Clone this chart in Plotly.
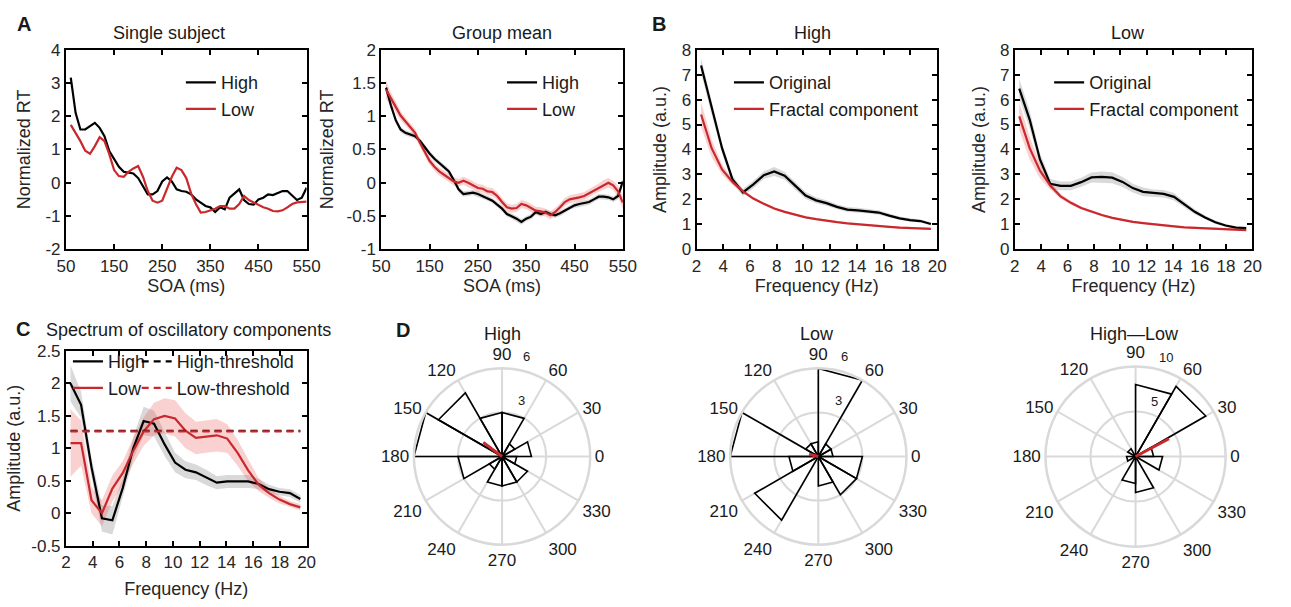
import plotly.graph_objects as go

# ---------------- DATA ----------------
soa = list(range(60, 560, 10))

a1_high = [3.16, 2.1, 1.6, 1.6, 1.7, 1.8, 1.65, 1.4, 0.95, 0.7, 0.48, 0.33, 0.3, 0.28, 0.14,
           -0.1, -0.35, -0.35, -0.25, 0.04, 0.16, 0.04, -0.2, -0.25, -0.27, -0.35, -0.5, -0.6,
           -0.7, -0.74, -0.88, -0.74, -0.8, -0.45, -0.32, -0.2, -0.52, -0.64, -0.66, -0.5, -0.45,
           -0.35, -0.37, -0.32, -0.25, -0.25, -0.4, -0.52, -0.45, -0.15]
a1_low = [1.74, 1.5, 1.25, 0.96, 0.87, 1.1, 1.37, 1.25, 0.86, 0.38, 0.2, 0.18, 0.33, 0.43, 0.5,
          0.18, -0.25, -0.54, -0.6, -0.54, -0.15, 0.18, 0.45, 0.38, 0.14, -0.32, -0.64, -0.9,
          -0.88, -0.83, -0.78, -0.7, -0.7, -0.78, -0.78, -0.64, -0.4, -0.52, -0.59, -0.66, -0.74,
          -0.78, -0.85, -0.86, -0.83, -0.74, -0.64, -0.59, -0.57, -0.57]

a2_high = [1.43, 1.16, 0.94, 0.8, 0.75, 0.73, 0.7, 0.63, 0.53, 0.44, 0.36, 0.3, 0.24, 0.17, 0.04,
           -0.1, -0.17, -0.16, -0.15, -0.17, -0.2, -0.23, -0.27, -0.33, -0.39, -0.47, -0.5, -0.54,
           -0.59, -0.54, -0.51, -0.44, -0.47, -0.44, -0.47, -0.49, -0.46, -0.42, -0.37, -0.34,
           -0.32, -0.31, -0.29, -0.25, -0.21, -0.21, -0.22, -0.25, -0.2, 0.02]
a2_high_err = [0.06, 0.05, 0.05, 0.04, 0.04, 0.04, 0.04, 0.04, 0.04, 0.04, 0.04, 0.04, 0.04, 0.04,
               0.04, 0.04, 0.04, 0.04, 0.04, 0.04, 0.04, 0.04, 0.04, 0.04, 0.04, 0.04, 0.04, 0.04,
               0.04, 0.04, 0.04, 0.04, 0.04, 0.04, 0.04, 0.04, 0.04, 0.04, 0.04, 0.04, 0.04, 0.04,
               0.04, 0.04, 0.04, 0.04, 0.04, 0.04, 0.05, 0.06]
a2_low = [1.4, 1.26, 1.14, 1.01, 0.92, 0.84, 0.75, 0.6, 0.46, 0.33, 0.24, 0.17, 0.12, 0.07, 0.02,
          0.0, 0.03, 0.0, -0.04, -0.08, -0.09, -0.13, -0.14, -0.2, -0.29, -0.37, -0.39, -0.38,
          -0.32, -0.34, -0.38, -0.42, -0.43, -0.45, -0.49, -0.44, -0.37, -0.29, -0.25, -0.24,
          -0.22, -0.2, -0.16, -0.11, -0.07, -0.03, 0.0, -0.04, -0.13, -0.3]
a2_low_err = [0.14, 0.1, 0.08, 0.07, 0.06, 0.06, 0.06, 0.06, 0.06, 0.06, 0.06, 0.06, 0.06, 0.06,
              0.06, 0.06, 0.06, 0.06, 0.06, 0.06, 0.06, 0.06, 0.06, 0.06, 0.06, 0.06, 0.06, 0.06,
              0.06, 0.06, 0.06, 0.06, 0.06, 0.06, 0.06, 0.06, 0.06, 0.06, 0.06, 0.06, 0.06, 0.06,
              0.06, 0.06, 0.06, 0.07, 0.07, 0.07, 0.08, 0.1]

freq = [2.34, 3.13, 3.91, 4.69, 5.47, 6.25, 7.03, 7.81, 8.59, 9.38, 10.16, 10.94, 11.72, 12.5,
        13.28, 14.06, 14.84, 15.63, 16.41, 17.19, 17.97, 18.75, 19.53]

b_high_orig = [7.37, 5.65, 4.05, 2.8, 2.28, 2.6, 2.97, 3.12, 2.95, 2.55, 2.15, 1.96, 1.85, 1.7,
               1.59, 1.56, 1.52, 1.47, 1.35, 1.24, 1.17, 1.13, 1.01]
b_high_orig_err = [0.3, 0.25, 0.2, 0.15, 0.15, 0.15, 0.15, 0.18, 0.16, 0.15, 0.14, 0.12, 0.11,
                   0.1, 0.1, 0.1, 0.09, 0.09, 0.08, 0.07, 0.07, 0.06, 0.06]
b_high_frac = [5.4, 4.05, 3.2, 2.7, 2.32, 2.03, 1.82, 1.63, 1.5, 1.38, 1.28, 1.21, 1.14, 1.09,
               1.04, 1.0, 0.96, 0.94, 0.9, 0.87, 0.85, 0.83, 0.82]
b_high_frac_err = [0.5, 0.35, 0.2, 0.12, 0.08, 0.06, 0.05, 0.05, 0.04, 0.04, 0.04, 0.04, 0.04,
                   0.04, 0.04, 0.04, 0.04, 0.04, 0.04, 0.04, 0.04, 0.04, 0.04]
b_low_orig = [6.44, 5.2, 3.6, 2.62, 2.54, 2.54, 2.69, 2.88, 2.9, 2.87, 2.7, 2.45, 2.3, 2.25,
              2.22, 2.1, 1.8, 1.5, 1.27, 1.08, 0.95, 0.87, 0.85]
b_low_orig_err = [0.4, 0.35, 0.25, 0.2, 0.18, 0.18, 0.18, 0.2, 0.22, 0.22, 0.2, 0.18, 0.18, 0.15,
                  0.15, 0.15, 0.12, 0.1, 0.08, 0.07, 0.06, 0.05, 0.05]
b_low_frac = [5.33, 4.05, 3.15, 2.55, 2.12, 1.86, 1.65, 1.5, 1.37, 1.26, 1.17, 1.1, 1.05, 1.0,
              0.96, 0.92, 0.88, 0.86, 0.83, 0.81, 0.79, 0.78, 0.77]
b_low_frac_err = [0.55, 0.45, 0.3, 0.15, 0.1, 0.08, 0.06, 0.05, 0.05, 0.04, 0.04, 0.04, 0.04,
                  0.04, 0.04, 0.04, 0.04, 0.04, 0.04, 0.04, 0.04, 0.04, 0.04]

c_high = [2.0, 1.67, 0.71, -0.08, -0.11, 0.39, 1.0, 1.42, 1.38, 1.06, 0.78, 0.67, 0.63, 0.55,
          0.47, 0.49, 0.49, 0.49, 0.45, 0.37, 0.33, 0.31, 0.22]
c_high_err = [0.28, 0.2, 0.15, 0.2, 0.22, 0.15, 0.17, 0.22, 0.2, 0.18, 0.15, 0.13, 0.12, 0.12,
              0.1, 0.1, 0.1, 0.1, 0.08, 0.07, 0.06, 0.06, 0.06]
c_low = [1.08, 1.08, 0.2, 0.0, 0.38, 0.62, 0.96, 1.26, 1.45, 1.5, 1.46, 1.27, 1.16, 1.18, 1.2,
         1.15, 0.93, 0.66, 0.44, 0.31, 0.21, 0.14, 0.09]
c_low_err = [0.52, 0.35, 0.2, 0.2, 0.2, 0.18, 0.2, 0.22, 0.25, 0.27, 0.28, 0.27, 0.25, 0.25,
             0.25, 0.22, 0.2, 0.17, 0.1, 0.07, 0.06, 0.05, 0.05]
c_high_thr = 1.27
c_low_thr = 1.26

rose_edges = [0, 30, 60, 90, 120, 150, 180, 210, 240, 270, 300, 330]
rose_high = [2, 1, 3, 3, 5, 6, 3, 1, 2, 2, 2, 1]
rose_low = [1, 1, 6, 1, 1, 6, 2, 5, 0, 2, 3, 3]
rose_diff = [2, 9, 8, 0, 1, 0, 1, 0, 3, 4, 0, 3]
mean_high = (1.6, 143)
mean_low = (0.65, 166)
mean_diff = (4.2, 28)

angle_ticks = ['0', '30', '60', '90', '120', '150', '180', '210', '240', '270', '300', '330']
rho_ticks_high = ['3', '6']
rho_ticks_low = ['3', '6']
rho_ticks_diff = ['5', '10']

# ---------------- STYLE ----------------
W, H = 1291, 607
BLACK = '#000000'
RED = '#c9282d'
GRAY_FILL = 'rgba(120,120,120,0.28)'
RED_FILL = 'rgba(235,90,90,0.28)'
GRID = '#d9d9d9'
FONT = 'Liberation Sans, Arial, sans-serif'
FS = 17      # tick labels
FT = 18      # titles / legends


def xd(a, b):
    return [a / W, b / W]


def yd(top, bottom):
    return [1 - bottom / H, 1 - top / H]


fig = go.Figure()


def band(x, y, err, color, xa, ya):
    up = [v + e for v, e in zip(y, err)]
    lo = [v - e for v, e in zip(y, err)]
    fig.add_trace(go.Scatter(x=list(x) + list(x)[::-1], y=up + lo[::-1], fill='toself',
                             fillcolor=color, line=dict(width=0), mode='lines',
                             hoverinfo='skip', showlegend=False, xaxis=xa, yaxis=ya))


def line(x, y, color, name, xa, ya, legend, dash='solid', width=2.2):
    fig.add_trace(go.Scatter(x=x, y=y, mode='lines', name=name,
                             line=dict(color=color, width=width, dash=dash),
                             xaxis=xa, yaxis=ya, legend=legend))


# Panel A left
line(soa, a1_high, BLACK, 'High', 'x', 'y', 'legend')
line(soa, a1_low, RED, 'Low', 'x', 'y', 'legend')

# Panel A right
band(soa, a2_high, a2_high_err, GRAY_FILL, 'x2', 'y2')
band(soa, a2_low, a2_low_err, RED_FILL, 'x2', 'y2')
line(soa, a2_high, BLACK, 'High', 'x2', 'y2', 'legend2')
line(soa, a2_low, RED, 'Low', 'x2', 'y2', 'legend2')

# Panel B left
band(freq, b_high_orig, b_high_orig_err, GRAY_FILL, 'x3', 'y3')
band(freq, b_high_frac, b_high_frac_err, RED_FILL, 'x3', 'y3')
line(freq, b_high_orig, BLACK, 'Original', 'x3', 'y3', 'legend3')
line(freq, b_high_frac, RED, 'Fractal component', 'x3', 'y3', 'legend3')

# Panel B right
band(freq, b_low_orig, b_low_orig_err, GRAY_FILL, 'x4', 'y4')
band(freq, b_low_frac, b_low_frac_err, RED_FILL, 'x4', 'y4')
line(freq, b_low_orig, BLACK, 'Original', 'x4', 'y4', 'legend4')
line(freq, b_low_frac, RED, 'Fractal component', 'x4', 'y4', 'legend4')

# Panel C
band(freq, c_high, c_high_err, GRAY_FILL, 'x5', 'y5')
band(freq, c_low, c_low_err, RED_FILL, 'x5', 'y5')
line(freq, c_high, BLACK, 'High', 'x5', 'y5', 'legend5')
line(freq, c_low, RED, 'Low', 'x5', 'y5', 'legend5')
line([freq[0], freq[-1]], [c_high_thr, c_high_thr], BLACK, 'High-threshold', 'x5', 'y5',
     'legend6', dash='7px,5px')
line([freq[0], freq[-1]], [c_low_thr, c_low_thr], RED, 'Low-threshold', 'x5', 'y5',
     'legend6', dash='7px,5px')


# Panel D roses
def rose(counts, mean, subplot):
    rr, tt = [], []
    for e, c in zip(rose_edges, counts):
        rr += [0, c, c, 0, None]
        tt += [e, e, e + 30, e + 30, None]
    fig.add_trace(go.Scatterpolar(r=rr, theta=tt, mode='lines', line=dict(color=BLACK, width=1.6),
                                  showlegend=False, subplot=subplot, connectgaps=False))
    fig.add_trace(go.Scatterpolar(r=[0, mean[0]], theta=[mean[1], mean[1]], mode='lines',
                                  line=dict(color=RED, width=3), showlegend=False,
                                  subplot=subplot))


rose(rose_high, mean_high, 'polar')
rose(rose_low, mean_low, 'polar2')
rose(rose_diff, mean_diff, 'polar3')

# ---------------- LAYOUT ----------------
def cax(domain, rng, tickvals, ticktext, title, anchor, standoff):
    return dict(domain=domain, range=rng, tickmode='array', tickvals=tickvals, ticktext=ticktext,
                showline=True, linecolor=BLACK, linewidth=2, mirror='ticks', ticks='inside',
                ticklen=5, tickwidth=1.5, tickcolor=BLACK, showgrid=False, zeroline=False,
                tickfont=dict(size=FS, color='#262626', family=FONT), anchor=anchor,
                title=dict(text=title, font=dict(size=FT, color='#262626', family=FONT),
                           standoff=standoff))


soa_ticks = [50, 150, 250, 350, 450, 550]
f_ticks = [2, 4, 6, 8, 10, 12, 14, 16, 18, 20]

layout = dict(
    width=W, height=H, margin=dict(l=0, r=0, t=0, b=0),
    paper_bgcolor='white', plot_bgcolor='white',
    font=dict(family=FONT, size=FS, color='#262626'),
    xaxis=cax(xd(58, 303), [50, 550], soa_ticks, [str(v) for v in soa_ticks], 'SOA (ms)', 'y', 2),
    yaxis=cax(yd(42, 248), [-2, 4], [-2, -1, 0, 1, 2, 3, 4],
              ['-2', '-1', '0', '1', '2', '3', '4'], 'Normalized RT', 'x', 10),
    xaxis2=cax(xd(379, 625), [50, 550], soa_ticks, [str(v) for v in soa_ticks], 'SOA (ms)', 'y2', 2),
    yaxis2=cax(yd(42, 248), [-1, 2], [-1, -0.5, 0, 0.5, 1, 1.5, 2],
               ['-1', '-0.5', '0', '0.5', '1', '1.5', '2'], 'Normalized RT', 'x2', 8),
    xaxis3=cax(xd(700, 945), [2, 20], f_ticks, [str(v) for v in f_ticks], 'Frequency (Hz)', 'y3', 2),
    yaxis3=cax(yd(42, 248), [0, 8], list(range(9)), [str(v) for v in range(9)],
               'Amplitude (a.u.)', 'x3', 10),
    xaxis4=cax(xd(1024, 1266), [2, 20], f_ticks, [str(v) for v in f_ticks], 'Frequency (Hz)', 'y4', 2),
    yaxis4=cax(yd(42, 248), [0, 8], list(range(9)), [str(v) for v in range(9)],
               'Amplitude (a.u.)', 'x4', 10),
    xaxis5=cax(xd(58, 303), [2, 20], f_ticks, [str(v) for v in f_ticks], 'Frequency (Hz)', 'y5', 11),
    yaxis5=cax(yd(353, 554), [-0.5, 2.5], [-0.5, 0, 0.5, 1, 1.5, 2, 2.5],
               ['-0.5', '0', '0.5', '1', '1.5', '2', '2.5'], 'Amplitude (a.u.)', 'x5', 6),
)


def leg(xpx, ypx):
    return dict(x=xpx / W, y=1 - ypx / H, xanchor='left', yanchor='top',
                bgcolor='rgba(0,0,0,0)', borderwidth=0, font=dict(size=FT, color='#1a1a1a'),
                itemwidth=30, tracegroupgap=0)


layout['legend'] = leg(175, 57)
layout['legend2'] = leg(502, 57)
layout['legend3'] = leg(733, 57)
layout['legend4'] = leg(1059, 57)
layout['legend5'] = leg(60, 345)
layout['legend6'] = leg(130, 345)


def pol(cx, cy, r, rmax):
    return dict(
        domain=dict(x=[(cx - r) / W, (cx + r) / W], y=[1 - (cy + r) / H, 1 - (cy - r) / H]),
        bgcolor='white',
        radialaxis=dict(range=[0, rmax], tickmode='array', tickvals=[rmax / 2, rmax],
                        showticklabels=False, showline=False, showgrid=True,
                        gridcolor=GRID, gridwidth=2.2, ticks=''),
        angularaxis=dict(rotation=0, direction='counterclockwise', tickmode='array',
                         tickvals=rose_edges, ticktext=angle_ticks, showline=True,
                         linecolor=GRID, linewidth=2.5, gridcolor=GRID, gridwidth=2.2,
                         ticks='', tickfont=dict(size=FS, color='#1a1a1a')),
    )


layout['polar'] = pol(502, 462, 91, 6)
layout['polar2'] = pol(824, 462, 91, 6)
layout['polar3'] = pol(1147, 462, 93, 10)

ann = []


def text(x, y, s, size=FT, bold=False):
    ann.append(dict(x=x / W, y=1 - y / H, xref='paper', yref='paper',
                    text=('<b>%s</b>' % s) if bold else s,
                    showarrow=False, xanchor='center', yanchor='middle',
                    font=dict(size=size, color='#1a1a1a', family=FONT)))


text(163, 25, 'Single subject')
text(502, 25, 'Group mean')
text(818, 25, 'High')
text(1139, 25, 'Low')
text(183, 331, 'Spectrum of oscillatory components')
text(502, 335, 'High')
text(823, 335, 'Low')
text(1146, 335, 'High\u2014Low')
text(15, 15, 'A', 20, True)
text(662, 15, 'B', 20, True)
text(14, 330, 'C', 20, True)
text(401, 331, 'D', 20, True)
# radial (rho) labels of the rose plots
text(527, 359, rho_ticks_high[1], 13)
text(522, 404, rho_ticks_high[0], 13)
text(851, 359, rho_ticks_low[1], 13)
text(845, 404, rho_ticks_low[0], 13)
text(1178, 360, rho_ticks_diff[1], 13)
text(1166, 405, rho_ticks_diff[0], 13)
layout['annotations'] = ann

fig.update_layout(**layout)
fig.write_html('out.html')
